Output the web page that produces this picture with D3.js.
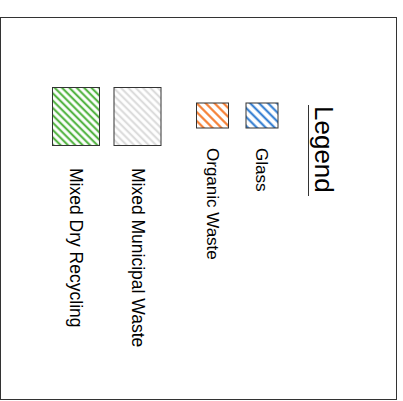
<!DOCTYPE html>
<html lang="en">
<head>
    <meta charset="UTF-8">
    <script src="https://cdn.jsdelivr.net/npm/d3@7"></script>
    <title>Waste Legend</title>
    <style>
        body { margin: 0; background: #fff; }
        text { font-family: "Liberation Sans", Arial, sans-serif; fill: #000; }
    </style>
</head>
<body>
    <script>
        const w = 403;
        const h = 401;

        // legend entries, top of the (rotated) legend first
        const title = "Legend";
        const smallItems = ["Glass", "Organic Waste"];
        const largeItems = ["Mixed Municipal Waste", "Mixed Dry Recycling"];
        const palette = {
            "Glass": "#2a78cf",
            "Organic Waste": "#f4701c",
            "Mixed Municipal Waste": "#dcdcdc",
            "Mixed Dry Recycling": "#56b545"
        };

        const svg = d3.select("body")
                        .append("svg")
                        .attr("width", w)
                        .attr("height", h);

        // hatch patterns
        const defs = svg.append("defs");
        const hatch = (name, gap, sw) => {
            const id = "hatch-" + name.replace(/\s+/g, "-");
            const p = defs.append("pattern")
                            .attr("id", id)
                            .attr("patternUnits", "userSpaceOnUse")
                            .attr("width", gap)
                            .attr("height", gap)
                            .attr("patternTransform", "rotate(-45)");
            p.append("line")
                .attr("x1", gap / 2).attr("y1", 0)
                .attr("x2", gap / 2).attr("y2", gap)
                .attr("stroke", palette[name])
                .attr("stroke-width", sw);
            return "url(#" + id + ")";
        };

        //outer frame
        svg.append("rect")
            .attr("x", 0.5)
            .attr("y", 17.5)
            .attr("width", 396)
            .attr("height", 382)
            .attr("fill", "none")
            .attr("stroke", "#333")
            .attr("stroke-width", 1);

        // scales for the column of each entry (legend is turned 90deg)
        const smallX = d3.scalePoint().domain(smallItems).range([262, 212.5]);
        const largeX = d3.scalePoint().domain(largeItems).range([137.5, 76]);

        const drawItems = (items, xScale, sw, sh, top, textTop, gap, lw, fontSize) => {
            const g = svg.append("g");
            g.selectAll("rect")
                .data(items)
                .enter()
                .append("rect")
                .attr("x", d => xScale(d) - sw / 2)
                .attr("y", top)
                .attr("width", sw)
                .attr("height", sh)
                .attr("fill", d => hatch(d, gap, lw))
                .attr("stroke", "#333")
                .attr("stroke-width", 1);

            g.selectAll("text")
                .data(items)
                .enter()
                .append("text")
                .attr("transform", d => "translate(" + (xScale(d) - 6) + "," + textTop + ") rotate(90)")
                .style("font-size", fontSize + "px")
                .text(d => d);
        };

        drawItems(smallItems, smallX, 32, 25, 103, 148, 6.3, 2, 17);
        drawItems(largeItems, largeX, 47, 58, 87.5, 168, 5.2, 2.2, 17.5);

        // title
        svg.append("text")
            .attr("transform", "translate(315,106) rotate(90)")
            .style("font-size", "26px")
            .text(title);

        svg.append("line")
            .attr("x1", 308.5).attr("y1", 105)
            .attr("x2", 308.5).attr("y2", 196)
            .attr("stroke", "#333")
            .attr("stroke-width", 1);
    </script>
</body>
</html>
